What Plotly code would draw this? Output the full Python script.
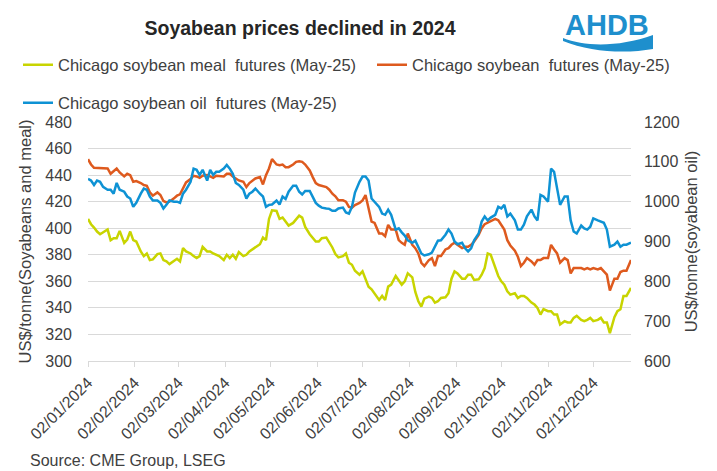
import pandas as pd
import plotly.graph_objects as go

# ---------------- data ----------------
soybean = [452, 448, 445.5, 445.5, 445.5, 445, 445, 441, 443, 445, 442, 439, 441, 440, 435, 435.5, 434, 432.5, 432, 427,
           424.5, 427, 425, 420.5, 419.5, 420, 422.5, 424.5, 425.5, 430, 434.5, 437, 439.5, 439, 438, 439.5, 440, 439, 438, 439.5, 439.5,
           439, 441, 441, 439, 437.5, 436, 435, 431, 434, 436, 437.5, 438.5, 433, 440, 445, 452, 448, 447.5, 448, 446,
           446, 448, 450, 450.5, 450, 448, 443.5, 438.5, 434, 432.5, 432, 431, 429, 426, 424, 421, 421, 420, 416, 415.5, 417.5,
           419, 421, 425, 415, 405, 404, 396, 396, 394, 402.5, 399, 399, 391, 389, 387.5, 396, 387.5, 385, 381, 374,
           371.5, 376, 377.5, 371.5, 379, 379, 384, 385, 387.5, 389, 387.5, 385, 386, 386, 387.5, 390, 395, 400, 403, 404, 405, 407,
           406, 402.5, 399, 391, 387, 383, 378.5, 371.5, 374, 377.5, 375, 372.5, 376, 376, 377.5, 377.5, 387.5, 384, 381, 374,
           377.5, 376, 366, 370, 370, 370, 369, 370, 369, 370, 369, 370, 367.5, 365, 353, 362, 362, 367, 368, 368, 376]

meal = [407, 403, 400.5, 397.5, 395.5, 397, 399, 391, 392.5, 392.5, 398, 389, 391.5, 397.5, 391, 390, 382.5, 379, 381, 376,
        376.5, 380.5, 381, 376, 375, 373, 375.5, 377, 375, 385, 382.5, 381, 379, 377.5, 379, 386, 382.5, 382.5, 381, 380, 379,
        376, 380, 377.5, 380, 377, 382, 379, 380, 382.5, 384, 386, 388, 393, 391, 407, 413.5, 413, 407, 408, 405,
        402, 404, 407, 409.5, 408, 401, 395.5, 392.5, 390, 390, 392.5, 393, 389.5, 385.5, 380.5, 378, 379, 381, 374, 372.5, 368,
        365, 367.5, 361, 356, 354, 351, 346, 349, 346, 356, 357.5, 364, 360.5, 357.5, 360, 366, 363, 352, 345, 341,
        347, 348.5, 347.5, 344, 345, 347.5, 348, 351, 362, 367.5, 366, 362, 362, 365, 365, 361, 361.5, 365, 370, 381, 380, 371,
        364, 360, 357.5, 352.5, 350, 351, 347.5, 349, 349, 347.5, 344, 342.5, 340, 335, 339, 337.5, 337.5, 335, 335, 327.5,
        330, 329, 329, 332.5, 334, 331, 330, 331, 332.5, 330, 331, 332.5, 329, 329, 321, 333, 337.5, 339, 349, 349, 355]

oil = [1057, 1053, 1042, 1053, 1050, 1037, 1030, 1030, 1020, 1047, 1030, 1025, 1013, 1008, 987, 997, 1020, 1033, 1030, 1013,
       1003, 1003, 997, 983, 992, 1003, 1000, 1000, 997, 1020, 1030, 1050, 1083, 1080, 1067, 1080, 1053, 1080, 1067, 1075, 1075,
       1083, 1092, 1083, 1070, 1047, 1042, 1030, 1008, 1020, 1025, 1033, 1020, 1013, 987, 992, 993, 1003, 993, 1013, 1007,
       1025, 1040, 1040, 1025, 1018, 1027, 1027, 1012, 997, 990, 985, 983, 982, 977, 977, 983, 985, 973, 970, 987, 1023,
       1050, 1063, 1063, 1053, 1008, 1000, 987, 970, 967, 980, 967, 930, 933, 923, 915, 903, 897, 902, 887, 870,
       865, 868, 872, 887, 902, 903, 917, 930, 920, 900, 893, 897, 883, 875, 883, 903, 920, 950, 963, 953, 960, 967,
       987, 983, 992, 963, 970, 953, 930, 930, 942, 963, 980, 963, 953, 1017, 1013, 1000, 1083, 1075, 1033, 992,
       1013, 1013, 953, 925, 920, 940, 933, 930, 937, 958, 953, 950, 947, 930, 887, 892, 900, 887, 892, 892, 897]

start_date = "2024-01-02"
end_date = "2024-12-27"
tick_dates = ["2024-01-02", "2024-02-02", "2024-03-02", "2024-04-02", "2024-05-02", "2024-06-02",
              "2024-07-02", "2024-08-02", "2024-09-02", "2024-10-02", "2024-11-02", "2024-12-02"]

names = ["Chicago soybean meal\u00a0 futures (May-25)",
         "Chicago soybean\u00a0 futures (May-25)",
         "Chicago soybean oil\u00a0 futures (May-25)"]

dates = pd.date_range(start_date, end_date, periods=len(soybean)).normalize()

# ---------------- style / geometry ----------------
WIN_W, WIN_H = 717, 471
OFF = 8                      # default page body margin
FW, FH = WIN_W - OFF, WIN_H - OFF
PLOT_L, PLOT_R, PLOT_T, PLOT_B = 88, 631, 122, 361
ML, MR, MT, MB = PLOT_L - OFF, WIN_W - PLOT_R, PLOT_T - OFF, WIN_H - PLOT_B
PW, PH = PLOT_R - PLOT_L, PLOT_B - PLOT_T

FONT = "Liberation Sans, Arial, sans-serif"
TXT = "#404040"
GRID = "#d9d9d9"
C_MEAL, C_SOY, C_OIL = "#C8D400", "#DE5A1E", "#0E92D4"
LOGO = "#1E8FCD"


def px(x):
    return (x - PLOT_L) / PW


def py(y):
    return (PLOT_B - y) / PH


def cx(x):
    return (x - OFF) / FW


def cy(y):
    return 1 - (y - OFF) / FH


fig = go.Figure()
fig.add_trace(go.Scatter(x=dates, y=meal, name=names[0], mode="lines",
                         line=dict(color=C_MEAL, width=2.5), legend="legend"))
fig.add_trace(go.Scatter(x=dates, y=soybean, name=names[1], mode="lines",
                         line=dict(color=C_SOY, width=2.5), legend="legend2"))
fig.add_trace(go.Scatter(x=dates, y=oil, name=names[2], mode="lines", yaxis="y2",
                         line=dict(color=C_OIL, width=2.5), legend="legend3"))

leg_common = dict(xref="container", yref="container", xanchor="left", yanchor="middle",
                  font=dict(family=FONT, size=16.5, color=TXT), bgcolor="rgba(0,0,0,0)",
                  borderwidth=0, orientation="h")

swoosh = (f"M {px(563)} {py(38)} C {px(585)} {py(47)}, {px(620)} {py(47)}, {px(653)} {py(35)} "
          f"L {px(653)} {py(49)} C {px(625)} {py(54)}, {px(590)} {py(52)}, {px(563)} {py(41)} Z")

fig.update_layout(
    width=FW, height=FH,
    margin=dict(l=ML, r=MR, t=MT, b=MB, autoexpand=False),
    paper_bgcolor="white", plot_bgcolor="white",
    font=dict(family=FONT, size=16, color=TXT),
    title=dict(text="Soyabean prices declined in 2024", xref="container", yref="container",
               x=cx(300), xanchor="center", y=cy(28), yanchor="middle",
               font=dict(family=FONT, size=19.5, color="#262626", weight="bold")),
    legend=dict(x=cx(18), y=cy(65), **leg_common),
    legend2=dict(x=cx(372), y=cy(65), **leg_common),
    legend3=dict(x=cx(18), y=cy(103), **leg_common),
    xaxis=dict(type="date", range=[start_date, end_date], tickvals=tick_dates,
               tickformat="%d/%m/%Y", tickangle=-45, ticks="outside", ticklen=5,
               tickcolor=GRID, showline=True, linecolor=GRID, linewidth=1, showgrid=False,
               zeroline=False, tickfont=dict(family=FONT, size=16, color=TXT), automargin=False),
    yaxis=dict(range=[300, 480], tick0=300, dtick=20, showgrid=True, gridcolor=GRID, gridwidth=1,
               zeroline=False, showline=False, ticks="", automargin=False, ticklabelstandoff=15,
               tickfont=dict(family=FONT, size=16, color=TXT),
               title=dict(text="US$/tonne(Soyabeans and meal)", standoff=9,
                          font=dict(family=FONT, size=16.5, color=TXT))),
    yaxis2=dict(range=[600, 1200], tick0=600, dtick=100, overlaying="y", side="right",
                showgrid=False, zeroline=False, showline=False, ticks="", automargin=False,
                ticklabelstandoff=12,
                tickfont=dict(family=FONT, size=16, color=TXT),
                title=dict(text="US$/tonne(soyabean oil)", standoff=6,
                           font=dict(family=FONT, size=16.5, color=TXT))),
    annotations=[
        dict(text="Source: CME Group, LSEG", xref="paper", yref="paper",
             x=px(28), y=py(460), xanchor="left", yanchor="middle", showarrow=False,
             font=dict(family=FONT, size=16, color=TXT)),
        dict(text="AHDB", xref="paper", yref="paper", x=px(607), y=py(25),
             xanchor="center", yanchor="middle", showarrow=False,
             font=dict(family=FONT, size=29, color=LOGO, weight="bold")),
    ],
    shapes=[dict(type="path", xref="paper", yref="paper", path=swoosh,
                 fillcolor=LOGO, line=dict(width=0))],
    showlegend=True,
)

fig.write_html("out.html")
